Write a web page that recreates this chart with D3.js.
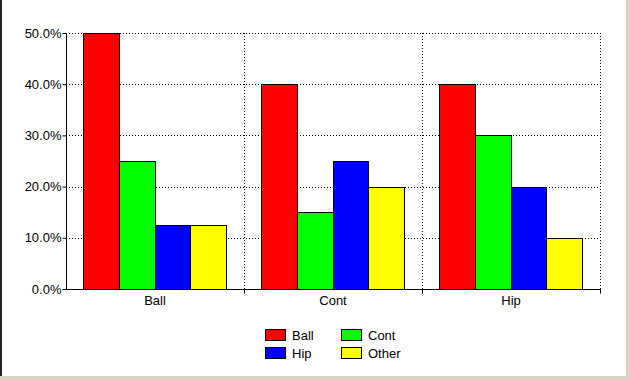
<!DOCTYPE html>
<html>
<head>
<meta charset="utf-8">
<script src="https://cdn.jsdelivr.net/npm/d3@7"></script>
<style>
  body { margin: 0; background: #fff; }
  svg { display: block; font-family: "Liberation Sans", Arial, sans-serif; font-size: 13px; }
</style>
</head>
<body>
<div id="chart"></div>
<script>
// chart data
var categories = ["Ball", "Cont", "Hip"];
var seriesNames = ["Ball", "Cont", "Hip", "Other"];
var seriesColors = ["#ff0000", "#00ff00", "#0000ff", "#ffff00"];
var ballValues = [0.50, 0.25, 0.125, 0.125];
var contValues = [0.40, 0.15, 0.25, 0.20];
var hipValues = [0.40, 0.30, 0.20, 0.10];
var yTicks = [0, 0.1, 0.2, 0.3, 0.4, 0.5];

var rows = [ballValues, contValues, hipValues];

var width = 629, height = 379;
var svg = d3.select("#chart").append("svg")
  .attr("width", width)
  .attr("height", height);

// window frame
svg.append("rect").attr("x", 0).attr("y", 0).attr("width", width).attr("height", height).attr("fill", "#fff");
svg.append("rect").attr("x", 0).attr("y", 0).attr("width", 2).attr("height", 376).attr("fill", "#222");
svg.append("rect").attr("x", 626).attr("y", 0).attr("width", 3).attr("height", height).attr("fill", "#d8d2c2");
svg.append("rect").attr("x", 0).attr("y", 376).attr("width", width).attr("height", 3).attr("fill", "#d8d2c2");

var margin = {left: 66, top: 33};

var g = svg.append("g").attr("transform", "translate(" + margin.left + "," + margin.top + ")");

var x0 = d3.scaleBand().domain(categories).range([0, 534]).paddingInner(0).paddingOuter(0);
var x1 = d3.scaleBand().domain(seriesNames).range([17, x0.bandwidth() - 18]);
var y = d3.scaleLinear().domain([0, 0.5]).range([256, 0]);

// dotted grid
g.selectAll(".hgrid").data(yTicks.filter(function(d) { return d > 0; }))
  .enter().append("line")
  .attr("x1", 0).attr("x2", 534)
  .attr("y1", function(d) { return Math.round(y(d)) + 0.5; })
  .attr("y2", function(d) { return Math.round(y(d)) + 0.5; })
  .attr("stroke", "#000").attr("stroke-dasharray", "1,2");

g.selectAll(".vgrid").data(categories)
  .enter().append("line")
  .attr("x1", function(d) { return x0(d) + x0.bandwidth() + 0.5; })
  .attr("x2", function(d) { return x0(d) + x0.bandwidth() + 0.5; })
  .attr("y1", 0).attr("y2", 256)
  .attr("stroke", "#000").attr("stroke-dasharray", "1,2");

// bars
var groups = g.selectAll(".grp").data(rows).enter().append("g")
  .attr("transform", function(d, i) { return "translate(" + x0(categories[i]) + ",0)"; });

groups.selectAll("rect").data(function(d) { return d; })
  .enter().append("rect")
  .attr("x", function(d, i) { return Math.round(x1(seriesNames[i])) + 0.5; })
  .attr("y", function(d) { return Math.round(y(d)) + 0.5; })
  .attr("width", function(d, i) { return Math.round(x1(seriesNames[i]) + x1.bandwidth()) - Math.round(x1(seriesNames[i])); })
  .attr("height", function(d) { return 256 - Math.round(y(d)); })
  .attr("fill", function(d, i) { return seriesColors[i]; })
  .attr("stroke", "#000");

// y-axis
var yAxis = g.append("g")
  .attr("transform", "translate(0.5,0)")
  .call(d3.axisLeft(y).tickValues(yTicks).tickSize(4).tickPadding(1).tickFormat(d3.format(".1%")));
yAxis.select(".domain").attr("d", "M0,0V256.5");
yAxis.selectAll(".tick text").attr("fill", "#000").style("font-size", "13px");

// x-axis
var xAxis = g.append("g")
  .attr("transform", "translate(0,256.5)")
  .call(d3.axisBottom(x0).tickSize(0).tickPadding(6));
xAxis.select(".domain").attr("d", "M0,0H534.5");
xAxis.selectAll(".tick text").attr("fill", "#000").style("font-size", "13px");
xAxis.selectAll(".sep").data(categories).enter().append("line")
  .attr("x1", function(d) { return x0(d) + x0.bandwidth() + 0.5; })
  .attr("x2", function(d) { return x0(d) + x0.bandwidth() + 0.5; })
  .attr("y1", 0).attr("y2", 4)
  .attr("stroke", "#000");

// legend
var legend = svg.append("g").attr("transform", "translate(265,329)");
var items = legend.selectAll(".item").data(seriesNames).enter().append("g")
  .attr("transform", function(d, i) { return "translate(" + (i % 2) * 76 + "," + Math.floor(i / 2) * 18 + ")"; });
items.append("rect")
  .attr("x", 0.5).attr("y", 0.5).attr("width", 20).attr("height", 11)
  .attr("fill", function(d, i) { return seriesColors[i]; })
  .attr("stroke", "#000");
items.append("text")
  .attr("x", 27).attr("y", 11)
  .attr("fill", "#000")
  .text(function(d) { return d; });
</script>
</body>
</html>
